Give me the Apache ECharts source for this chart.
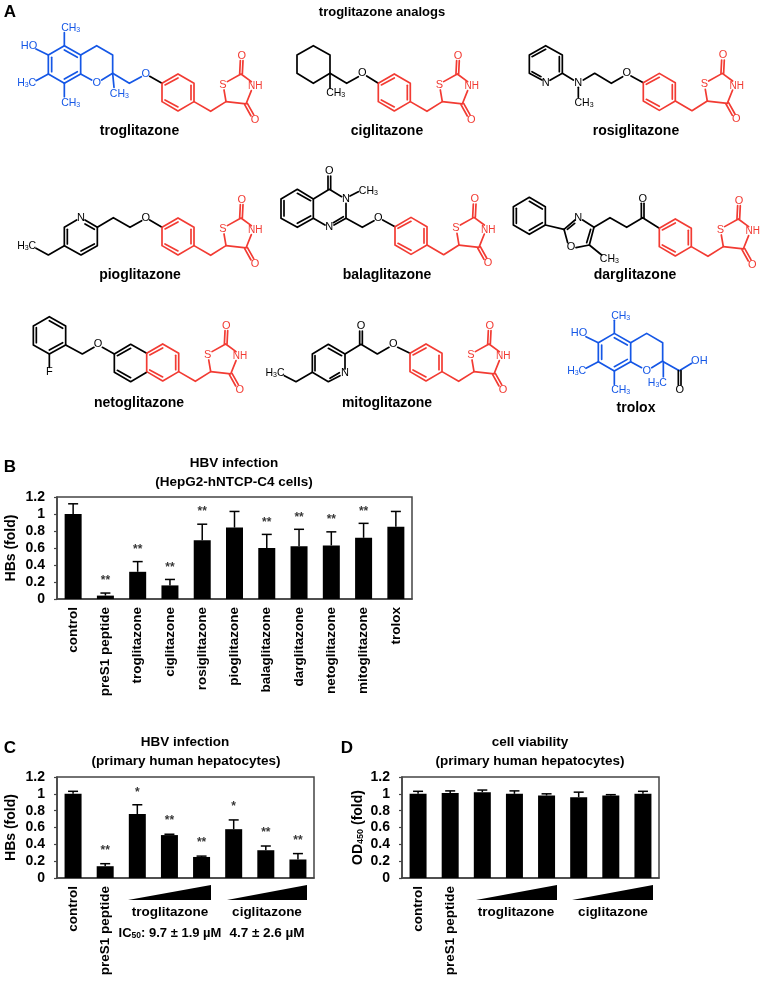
<!DOCTYPE html>
<html><head><meta charset="utf-8">
<style>html,body{margin:0;padding:0;background:#fff}#c{width:764px;height:981px}</style>
<script src="https://cdn.jsdelivr.net/npm/echarts@6/dist/echarts.min.js"></script>
</head><body><div id="c"></div>
<script>
// ---- data ----
const categoriesB = ['control','preS1 peptide','troglitazone','ciglitazone','rosiglitazone','pioglitazone','balaglitazone','darglitazone','netoglitazone','mitoglitazone','trolox'];
const valuesB   = [1.0,0.04,0.32,0.16,0.69,0.84,0.60,0.62,0.63,0.72,0.85];
const errTopB   = [1.12,0.07,0.44,0.23,0.88,1.03,0.76,0.82,0.79,0.89,1.03];
const starsB    = ['','**','**','**','**','','**','**','**','**',''];
const starYB    = [0,0.23,0.60,0.39,1.04,0,0.92,0.98,0.95,1.05,0];

const categoriesCD = ['control','preS1 peptide','','','','','',''];
const valuesC   = [1.0,0.14,0.76,0.51,0.25,0.58,0.33,0.22];
const errTopC   = [1.03,0.17,0.87,0.52,0.26,0.69,0.38,0.29];
const starsC    = ['','**','*','**','**','*','**','**'];
const starYC    = [0,0.34,1.03,0.70,0.44,0.86,0.555,0.46];

const valuesD   = [1.0,1.01,1.02,1.0,0.98,0.96,0.98,1.0];
const errTopD   = [1.03,1.035,1.045,1.035,1.0,1.02,0.99,1.03];

const FF = '"Liberation Sans", Helvetica, Arial, sans-serif';
const BLUE = '#1557e6', RED = '#f23b33', BLACK = '#000';
const els = [];

function text(t,x,y,size,bold,fill,rich){
  els.push({type:'text',z:10,style:{text:t,x:x,y:y,fill:fill||BLACK,fontFamily:FF,fontSize:size,fontWeight:bold?'bold':'normal',textAlign:'center',textVerticalAlign:'middle',rich:rich}});
}
function line(pts,color,close){
  els.push({type:close?'polygon':'polyline',z:5,shape:{points:pts},style:{stroke:color,lineWidth:1.7,fill:null,lineJoin:'round',lineCap:'round'}});
}
function mol(ox,oy,color,lines,atoms){
  const P = a => { const o=[]; for(let i=0;i<a.length;i+=2) o.push([ox+a[i]/3, oy+a[i+1]/3]); return o; };
  lines.forEach(l => {
    const closed = !!l.closed, a = l.p || l;
    line(P(a),color,closed);
  });
  (atoms||[]).forEach(at => {
    const sub = {b:{fontSize:10.5,fontFamily:FF,fill:color},s:{fontSize:7,fontFamily:FF,fill:color,verticalAlign:'bottom',padding:[4,0,0,0]}};
    const t = at[0];
    let rich;
    let label = t;
    if (t==='CH3') label='{b|CH}{s|3}';
    if (t==='H3C') label='{b|H}{s|3}{b|C}';
    if (label!==t) rich=sub;
    text(label,ox+at[1]/3,oy+at[2]/3,t==='NH'?10:11,false,color,rich);
  });
}
function tail(ax,ay){
  mol(ax,ay,RED,[
    {closed:true,p:[0,0,48,-28,96,0,96,55,48,83,0,55]},
    [9,5,48,-16],[87,6,87,49],[48,71,9,50],
    [96,55,146,84,192,55,186,20],[196,-5,237,-28,268,-5],
    [268,22,252,62,192,55],
    [233,-28,235,-68],[241,-28,243,-68],
    [248,64,267,98],[256,60,275,94]
  ],[['S',183,5],['NH',280,10],['O',239,-82],['O',279,110]]);
}
function chroman(ox,oy){
  mol(ox,oy,BLUE,[
    {closed:true,p:[145,165,193,137,242,165,242,222,193,250,145,222]},
    [155,172,155,215],[193,150,232,172],[193,237,232,215],
    [242,165,290,137,338,165,338,220,305,240],[275,240,242,222],
    [108,147,145,165],[193,137,193,98],[145,222,108,242],[193,250,193,290]
  ],[['O',290,249],['HO',87,137],['CH3',212,84],['H3C',80,250],['CH3',212,308]]);
}
// troglitazone
chroman(0,0);
mol(0,0,BLUE,[[338,220,342,262],[338,220,388,250,424,230]],[['CH3',358,281],['O',437,222]]);
mol(0,0,BLACK,[[449,229,486,250]]);
tail(162,83.3);
// ciglitazone
mol(280,20,BLACK,[
  {closed:true,p:[100,77,150,105,150,160,100,190,51,160,51,105]},
  [150,160,150,205],[150,160,200,190,235,170],[260,168,295,190]
],[['CH3',167,220],['O',247,160]]);
tail(378.3,83.3);
// rosiglitazone
mol(510,20,BLACK,[
  [96,180,58,160,58,105,107,77,157,105,157,160,120,181],
  [66,110,107,88],[148,110,148,155],[66,155,93,170],
  [157,160,190,180],[220,180,254,160,304,190,338,170],[363,168,400,188],
  [205,202,205,232]
],[['N',107,188],['N',205,188],['O',350,160],['CH3',222,248]]);
tail(643.3,82.7);
// pioglitazone
mol(0,170,BLACK,[
  [230,150,193,172,193,227,243,255,292,227,292,172,255,150],
  [202,178,202,222],[243,243,283,222],[255,162,283,178],
  [292,172,340,143,390,172,425,152],[449,150,486,172],
  [193,227,145,255,108,235]
],[['N',243,143],['O',437,143],['H3C',80,228]]);
tail(162,227.3);
// balaglitazone
mol(270,150,BLACK,[
  {closed:true,p:[82,118,130,147,130,205,82,232,33,205,33,147]},
  [42,152,42,198],[82,130,122,152],[82,220,122,198],
  [130,147,178,118,215,140],[228,160,228,205,192,225],[165,225,130,205],
  [220,200,190,218],
  [174,118,174,78],[182,118,182,78],
  [240,138,265,125],
  [228,205,277,232,312,212],[338,210,375,230]
],[['N',228,147],['N',178,232],['O',178,63],['CH3',295,122],['O',325,203]]);
tail(395,226.7);
// darglitazone
mol(500,170,BLACK,[
  {closed:true,p:[88,82,136,110,136,165,88,193,40,165,40,110]},
  [49,115,49,160],[88,94,127,117],[88,181,127,158],
  [136,165,192,178],
  [192,178,225,150],[248,150,282,172,268,225,228,233],[203,218,192,178],
  [202,178,224,160],[272,178,260,218],
  [268,225,305,255],
  [282,172,330,143,380,172,428,143,478,175],
  [424,143,424,100],[432,143,432,100]
],[['N',235,143],['O',213,232],['CH3',328,268],['O',428,86]]);
tail(659.3,228.3);
// netoglitazone
mol(0,310,BLACK,[
  {closed:true,p:[148,20,197,48,197,105,148,132,100,105,100,48]},
  [109,53,109,98],[148,32,188,55],[148,120,188,98],
  [148,132,148,172],
  [197,105,247,132,282,112],[307,112,343,132],
  [440,130,392,103,343,132,343,187,392,215,440,187],
  [392,115,352,137],[392,203,352,181]
],[['F',148,187],['O',294,103]]);
tail(146.7,353.3);
// mitoglitazone
mol(250,310,BLACK,[
  [285,177,285,132,235,103,187,132,187,187,235,215,270,197],
  [195,137,195,182],[235,115,275,137],[240,205,268,188],
  [187,187,138,215,103,197],
  [285,132,333,103,382,132,417,112],[443,112,480,130],
  [329,103,329,63],[337,103,337,63]
],[['N',285,190],['H3C',75,190],['O',430,103],['O',333,48]]);
tail(410,353.3);
// trolox
chroman(550,287.7);
mol(550,320,BLUE,[[340,125,340,170],[340,125,388,152,425,130]],[['H3C',322,188],['OH',448,123]]);
mol(550,320,BLACK,[[385,152,385,195],[393,152,393,195]],[['O',389,210]]);

// names
[['troglitazone',139.5,131],['ciglitazone',387,131],['rosiglitazone',636,131],
 ['pioglitazone',140,275],['balaglitazone',387,275],['darglitazone',635,275],
 ['netoglitazone',139,403],['mitoglitazone',387,403],['trolox',636,408]
].forEach(n=>text(n[0],n[1],n[2],14,true));

text('troglitazone analogs',382,12,13,true);
text('A',10,12,17,true); text('B',10,467,17,true); text('C',10,748,17,true); text('D',347,748,17,true);
text('HBV infection',234,463,13.5,true); text('(HepG2-hNTCP-C4 cells)',234,482,13.5,true);
text('HBV infection',185,742,13.5,true); text('(primary human hepatocytes)',186,761,13.5,true);
text('cell viability',530,742,13.5,true); text('(primary human hepatocytes)',530,761,13.5,true);

function tri(x1,x2){ els.push({type:'polygon',z:5,shape:{points:[[x1,900],[x2,885],[x2,900]]},style:{fill:'#000'}}); }
tri(128,211); tri(227,307); tri(476,557); tri(572,653);
text('troglitazone',170,912,13.5,true); text('ciglitazone',267,912,13.5,true);
text('troglitazone',516,912,13.5,true); text('ciglitazone',613,912,13.5,true);
els.push({type:'text',z:10,style:{text:'{a|IC}{s|50}{a|: 9.7 ± 1.9 µM}',x:170,y:933,textAlign:'center',textVerticalAlign:'middle',
  rich:{a:{fontFamily:FF,fontWeight:'bold',fontSize:13,fill:'#000'},s:{fontFamily:FF,fontWeight:'bold',fontSize:8.5,fill:'#000',verticalAlign:'bottom',padding:[5,0,0,0]}}}});
text('4.7 ± 2.6 µM',267,933,13.5,true);

// ---- charts ----
const grids=[{left:57,top:497,width:355,height:102},{left:57,top:777,width:257,height:101},{left:402,top:777,width:257,height:101}];
function xAxis(i,cats){return {type:'category',gridIndex:i,data:cats,axisTick:{show:false},
  axisLine:{show:true,lineStyle:{color:'#444',width:1.5}},
  axisLabel:{interval:0,rotate:90,margin:8,color:'#000',fontFamily:FF,fontWeight:'bold',fontSize:13.5}};}
function yAxis(i,name,gap,rich){return {type:'value',gridIndex:i,min:0,max:1.2,interval:0.2,
  name:name,nameLocation:'middle',nameRotate:90,nameGap:gap,
  nameTextStyle:{color:'#000',fontFamily:FF,fontWeight:'bold',fontSize:14,rich:rich},
  splitLine:{show:false},axisLine:{show:true,lineStyle:{color:'#444',width:1.5}},
  axisTick:{show:true,length:3,lineStyle:{color:'#444',width:1.2}},
  axisLabel:{margin:12,color:'#000',fontFamily:FF,fontWeight:'bold',fontSize:14}};}
function panel(i,vals,tops,stars,starY){
  const out=[
   {type:'bar',xAxisIndex:i,yAxisIndex:i,data:vals,barWidth:17,itemStyle:{color:'#000'},animation:false},
   {type:'custom',xAxisIndex:i,yAxisIndex:i,data:vals.map((v,k)=>[k,v,tops[k]]),animation:false,silent:true,
    renderItem:(p,api)=>{
      const a=api.coord([api.value(0),api.value(1)]), b=api.coord([api.value(0),api.value(2)]);
      return {type:'group',children:[
        {type:'line',shape:{x1:a[0],y1:a[1],x2:b[0],y2:b[1]},style:{stroke:'#000',lineWidth:1.5}},
        {type:'line',shape:{x1:b[0]-5,y1:b[1],x2:b[0]+5,y2:b[1]},style:{stroke:'#000',lineWidth:1.5}}
      ]};
    }}
  ];
  if(stars) out.push({type:'scatter',xAxisIndex:i,yAxisIndex:i,symbolSize:0,animation:false,silent:true,
    data:stars.map((s,k)=>({value:[k,starY[k]],t:s})).filter(d=>d.t),
    label:{show:true,position:'inside',offset:[0,1.5],formatter:p=>p.data.t,color:'#000',fontFamily:FF,fontWeight:'bold',fontSize:12}});
  return out;
}
const chart=echarts.init(document.getElementById('c'),null,{renderer:'canvas',width:764,height:981});
chart.setOption({
  animation:false,backgroundColor:'#fff',
  grid:grids.map(g=>Object.assign({show:true,borderColor:'#444',borderWidth:1.5,containLabel:false},g)),
  xAxis:[xAxis(0,categoriesB),xAxis(1,categoriesCD),xAxis(2,categoriesCD)],
  yAxis:[yAxis(0,'HBs (fold)',39),yAxis(1,'HBs (fold)',39),
    yAxis(2,'{a|OD}{s|450}{a| (fold)}',37,{a:{fontFamily:FF,fontWeight:'bold',fontSize:14,color:'#000'},s:{fontFamily:FF,fontWeight:'bold',fontSize:9,color:'#000',verticalAlign:'bottom',padding:[5,0,0,0]}})],
  series:[...panel(0,valuesB,errTopB,starsB,starYB),...panel(1,valuesC,errTopC,starsC,starYC),...panel(2,valuesD,errTopD)],
  graphic:{elements:els}
});
</script></body></html>
